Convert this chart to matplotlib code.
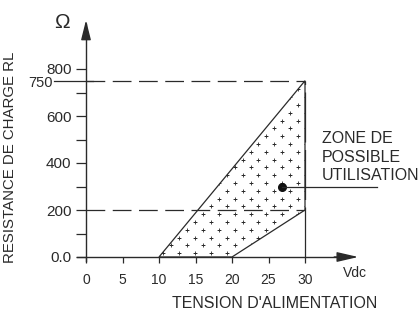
import numpy as np
import matplotlib.pyplot as plt
from matplotlib.path import Path
from matplotlib.patches import PathPatch

plt.rcParams['font.family'] = ['Liberation Sans', 'DejaVu Sans']

# Data
zone_v = [10, 30, 30, 20]          # supply voltage (Vdc) of zone corners
zone_r = [0, 750, 200, 0]          # load resistance (ohm) of zone corners
x_ticks = [0, 5, 10, 15, 20, 25, 30]
y_ticks = [0, 200, 400, 600, 800]
y_tick_labels = ['0.0', '200', '400', '600', '800']
y_minor = [100, 300, 500, 700]
r_max, r_min, v_max = 750, 200, 30
zone_text = 'ZONE DE\nPOSSIBLE\nUTILISATION'
zone_point = (26.8, 299)

INK = '#2a2a2a'

# pixel scale of the original drawing
PX_V = 7.3      # px per volt
PX_R = 0.235    # px per ohm
X0, Y0 = 86, 257

fig = plt.figure(figsize=(4.2, 3.1), dpi=100)
ax = fig.add_axes([0, 0, 1, 1])
ax.set_xlim(-X0 / PX_V, (420 - X0) / PX_V)
ax.set_ylim(-(310 - Y0) / PX_R, Y0 / PX_R)
ax.patch.set_visible(False)

# axes through origin
for s in ['top', 'right']:
    ax.spines[s].set_visible(False)
ax.spines['left'].set_position(('data', 0))
ax.spines['bottom'].set_position(('data', 0))
ax.spines['left'].set_bounds(-15, 990)
ax.spines['bottom'].set_bounds(-1.2, 36)
for s in ['left', 'bottom']:
    ax.spines[s].set_color(INK)
    ax.spines[s].set_linewidth(1.0)
ax.annotate('', xy=(37.3, 0), xytext=(34, 0),
            arrowprops=dict(arrowstyle='-|>,head_length=1.3,head_width=0.3',
                            color=INK, lw=1.0, shrinkA=0, shrinkB=0))
ax.annotate('', xy=(0, 1008), xytext=(0, 950),
            arrowprops=dict(arrowstyle='-|>,head_length=1.2,head_width=0.3',
                            color=INK, lw=1.0, shrinkA=0, shrinkB=0))

ax.set_xticks(x_ticks)
ax.set_yticks(y_ticks)
ax.set_yticklabels(y_tick_labels)
ax.set_yticks(y_minor, minor=True)
ax.tick_params(axis='x', direction='out', length=4.5, width=0.9, color=INK,
               pad=7, labelsize=10, labelcolor=INK)
ax.tick_params(axis='y', which='both', direction='out', length=7, width=0.9,
               color=INK, pad=3.5, labelsize=11, labelcolor=INK)

# usable zone
verts = list(zip(zone_v, zone_r)) + [(zone_v[0], zone_r[0])]
zone = Path(verts, closed=True)
edge = PathPatch(zone, facecolor='none', edgecolor=INK, lw=0.9)
ax.add_patch(edge)

# staggered plus pattern inside zone
dx, dy = 2.17, 33.2
rows = np.arange(0, 24)
px, py = [], []
for r in rows:
    xs = np.arange(10.6 + (r % 2) * dx / 2 - 4 * dx, 31, dx)
    px.extend(xs)
    py.extend([16 + r * dy] * len(xs))
pts = ax.scatter(px, py, marker='+', s=12, lw=0.6, color=INK)
pts.set_clip_path(edge)

# dashed guides
dash = dict(color=INK, lw=0.9, dashes=(15, 6))
ax.plot([0, v_max], [r_max, r_max], **dash)
ax.plot([0, v_max], [r_min, r_min], **dash)
ax.plot([v_max, v_max], [0, r_max], color=INK, lw=0.9, dashes=(40, 6))
ax.plot([-4.4, 1.0], [r_max, r_max], color=INK, lw=0.9)
ax.text(-4.5, r_max - 8, '750', ha='right', va='center', fontsize=10.5,
        color=INK)

# callout
ax.plot(*zone_point, 'o', color='#111', ms=5.5)
ax.plot([zone_point[0], 39.8], [zone_point[1]] * 2, color=INK, lw=0.9)
ax.text(32.3, 425, zone_text, ha='left', va='center', fontsize=11.5,
        color=INK, linespacing=1.27)

ax.text(-3.3, 1000, 'Ω', ha='center', va='center', fontsize=15, color=INK)
ax.text(36.9, -70, 'Vdc', ha='center', va='center', fontsize=10, color=INK)

ax.set_ylabel('RESISTANCE DE CHARGE RL', fontsize=10.8, color=INK)
ax.yaxis.set_label_coords(17 / 420, (310 - 157) / 310)
ax.set_xlabel('TENSION D\'ALIMENTATION', fontsize=11.5, color=INK)
ax.xaxis.set_label_coords(275 / 420, (310 - 296) / 310)

fig.savefig('out.png', dpi=100)
